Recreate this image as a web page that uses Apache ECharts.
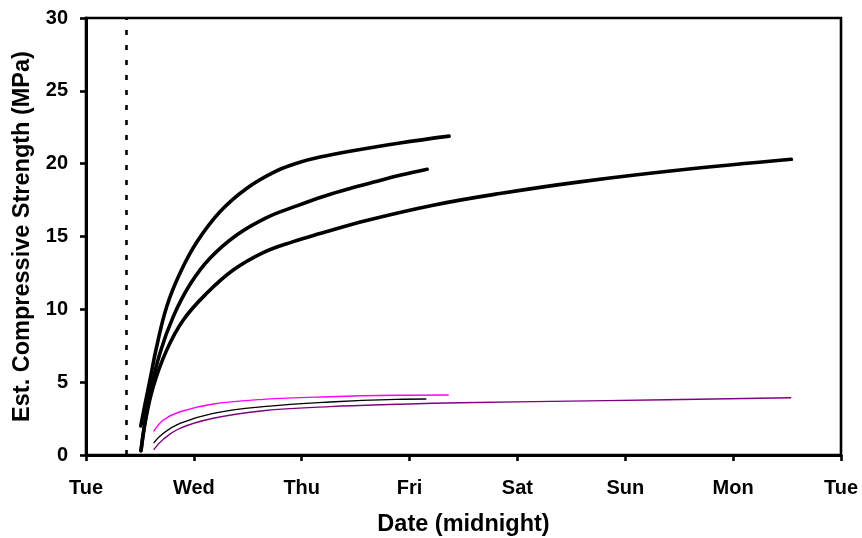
<!DOCTYPE html>
<html>
<head>
<meta charset="utf-8">
<script src="https://cdn.jsdelivr.net/npm/echarts@6/dist/echarts.min.js"></script>
<style>html,body{margin:0;padding:0;background:#fff}#c{width:862px;height:538px}</style>
</head>
<body>
<div id="c"></div>
<script>
// x values are days since Tuesday midnight
var dayLabels = ["Tue","Wed","Thu","Fri","Sat","Sun","Mon","Tue"];
var markerDay = 0.375;

var thickA = [[0.508,2.0],[0.55,3.6],[0.593,5.15],[0.655,7.43],[0.748,10.18],[0.871,12.47],[1.026,14.6],[1.242,16.7],[1.489,18.3],[1.767,19.5],[1.983,20.1],[2.169,20.45],[2.447,20.85],[2.91,21.42],[3.367,21.89]];
var thickB = [[0.51,0.3],[0.55,2.4],[0.593,4.2],[0.686,7.0],[0.809,9.5],[0.964,11.7],[1.149,13.5],[1.397,15.1],[1.675,16.3],[1.953,17.1],[2.2,17.75],[2.447,18.3],[2.7,18.8],[2.91,19.2],[3.163,19.61]];
var thickC = [[0.51,0.3],[0.55,2.3],[0.624,4.7],[0.748,7.2],[0.902,9.27],[1.119,11.1],[1.365,12.7],[1.643,13.9],[1.921,14.65],[2.169,15.2],[2.601,16.1],[3.219,17.15],[3.837,17.95],[4.578,18.75],[5.505,19.56],[6.54,20.3]];
var thinMagenta = [[0.63,1.65],[0.717,2.4],[0.871,2.97],[1.18,3.5],[1.643,3.82],[2.261,4.0],[2.88,4.1],[3.358,4.12]];
var thinBlack = [[0.63,0.85],[0.717,1.49],[0.871,2.17],[1.18,2.86],[1.643,3.32],[2.261,3.64],[2.88,3.82],[3.151,3.84]];
var thinPurple = [[0.63,0.39],[0.717,1.08],[0.871,1.83],[1.18,2.52],[1.643,3.04],[2.261,3.32],[2.88,3.48],[3.466,3.59],[4.826,3.73],[6.534,3.93]];

var FONT = '"Liberation Sans", Arial, sans-serif';
function line(data, color, width) {
  return {type:'line', data:data, showSymbol:false, symbol:'none', smooth:0.4,
    lineStyle:{color:color, width:width, cap:'round', join:'round'}, silent:true, z:3};
}
var chart = echarts.init(document.getElementById('c'), null, {renderer:'canvas'});
var series = [
  line(thickA,'#000',3.6), line(thickB,'#000',3.6), line(thickC,'#000',3.6),
  line(thinMagenta,'#ff00ff',1.4), line(thinBlack,'#000',1.4), line(thinPurple,'#800080',1.4)
];
series[0].markLine = {silent:true, symbol:['none','none'], label:{show:false},
  lineStyle:{color:'#000', width:2.6, type:[5,10]},
  data:[[{coord:[markerDay,0]},{coord:[markerDay,30]}]]};
chart.setOption({
  animation:false,
  backgroundColor:'#fff',
  grid:{left:86, right:21, top:18, bottom:83, containLabel:false, outerBoundsMode:'none',
    show:true, borderColor:'#000', borderWidth:2.6, backgroundColor:'transparent'},
  xAxis:{type:'value', min:0, max:7, interval:1,
    name:'Date (midnight)', nameLocation:'middle', nameGap:58,
    nameTextStyle:{fontFamily:FONT, fontWeight:'bold', fontSize:23.5, color:'#000'},
    axisLine:{show:true, onZero:false, lineStyle:{color:'#000', width:3}},
    axisTick:{show:true, length:6, lineStyle:{color:'#000', width:2.6}},
    axisLabel:{margin:23, fontFamily:FONT, fontWeight:'bold', fontSize:20, color:'#000',
      formatter:function(v){return dayLabels[Math.round(v)];}},
    splitLine:{show:false}},
  yAxis:{type:'value', min:0, max:30, interval:5,
    name:'Est. Compressive Strength (MPa)', nameLocation:'middle', nameGap:49, nameRotate:90,
    nameTextStyle:{fontFamily:FONT, fontWeight:'bold', fontSize:23.5, color:'#000'},
    axisLine:{show:true, lineStyle:{color:'#000', width:3}},
    axisTick:{show:true, length:6, lineStyle:{color:'#000', width:2.6}},
    axisLabel:{margin:18, fontFamily:FONT, fontWeight:'bold', fontSize:20, color:'#000'},
    splitLine:{show:false}},
  series:series
});
</script>
</body>
</html>
